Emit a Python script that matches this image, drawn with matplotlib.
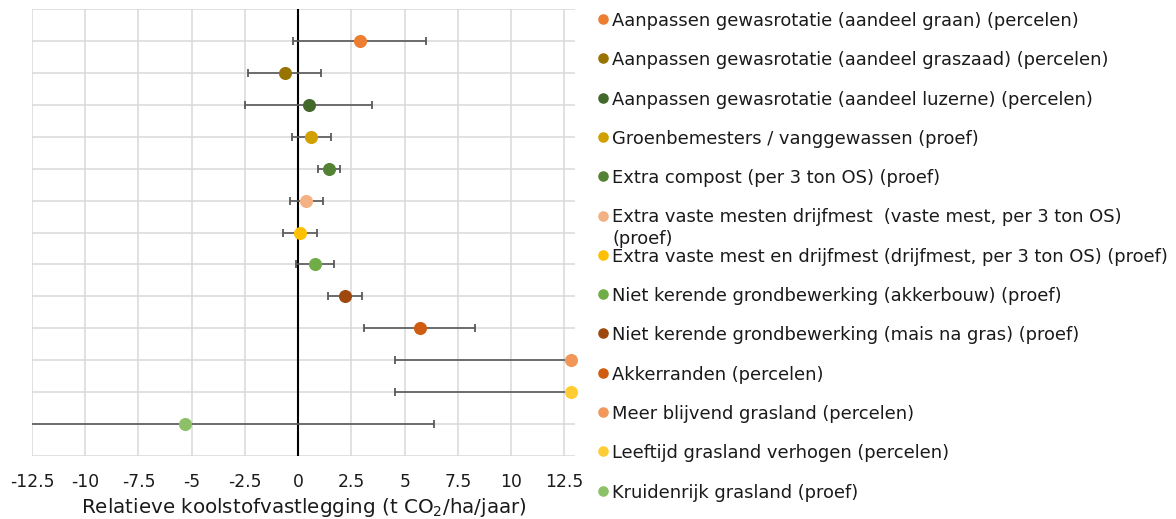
import numpy as np
import matplotlib
matplotlib.use("Agg")
import matplotlib.pyplot as plt

# maatregelen, van boven naar beneden
labels = [
    "Aanpassen gewasrotatie (aandeel graan) (percelen)",
    "Aanpassen gewasrotatie (aandeel graszaad) (percelen)",
    "Aanpassen gewasrotatie (aandeel luzerne) (percelen)",
    "Groenbemesters / vanggewassen (proef)",
    "Extra compost (per 3 ton OS) (proef)",
    "Extra vaste mesten drijfmest  (vaste mest, per 3 ton OS)\n(proef)",
    "Extra vaste mest en drijfmest (drijfmest, per 3 ton OS) (proef)",
    "Niet kerende grondbewerking (akkerbouw) (proef)",
    "Niet kerende grondbewerking (mais na gras) (proef)",
    "Akkerranden (percelen)",
    "Meer blijvend grasland (percelen)",
    "Leeftijd grasland verhogen (percelen)",
    "Kruidenrijk grasland (proef)",
]
# relatieve koolstofvastlegging (t CO2/ha/jaar) en spreiding
waarde = [2.88, -0.64, 0.49, 0.61, 1.43, 0.39, 0.08, 0.78, 2.19, 5.70, 12.83, 12.83, -5.31]
spreiding = [3.1, 1.7, 3.0, 0.92, 0.52, 0.79, 0.80, 0.90, 0.79, 2.6, 8.3, 8.3, 11.7]
kleuren = ["#ED7D31", "#997300", "#43682B", "#D09F00", "#548235", "#F4B183", "#FFC000",
           "#70AD47", "#9E480E", "#CF5C10", "#F1975A", "#FFCD33", "#8CC168"]

xticks = [-12.5, -10, -7.5, -5, -2.5, 0, 2.5, 5, 7.5, 10, 12.5]
xticklabels = ["-12.5", "-10", "-7.5", "-5", "-2.5", "0", "2.5", "5", "7.5", "10", "12.5"]

plt.rcParams["font.family"] = ["DejaVu Sans"]
W, H = 1176, 519
fig = plt.figure(figsize=(W / 100, H / 100), dpi=100)
ax = fig.add_axes([32 / W, 1 - 456 / H, (575 - 32) / W, (456 - 9) / H])

n = len(labels)
ypos = np.arange(n, 0, -1)

ax.set_xlim(-12.5, 13.0)
ax.set_ylim(0, n + 1)
ax.set_xticks(xticks)
ax.set_xticklabels(xticklabels, fontsize=12.3, color="#1A1A1A")
ax.set_yticks(np.arange(0, n + 2))
ax.set_yticklabels([])
ax.tick_params(length=0, pad=12)
ax.grid(True, color="#D9D9D9", lw=1.1, zorder=0)
ax.set_axisbelow(True)
for s in ax.spines.values():
    s.set_visible(False)
ax.axvline(0, color="black", lw=1.5, zorder=2)

for y, v, e, c in zip(ypos, waarde, spreiding, kleuren):
    ax.errorbar(v, y, xerr=e, fmt="none", ecolor="#595959", elinewidth=1.2,
                capsize=2.9, capthick=1.3, zorder=3)
    ax.plot(v, y, "o", color=c, ms=8.4, mec=c, zorder=4, clip_on=False)

ax.set_xlabel("Relatieve koolstofvastlegging (t CO$_2$/ha/jaar)", fontsize=14.3,
              color="#1A1A1A", labelpad=4)

# legenda
lax = fig.add_axes([595 / W, 0, 1 - 595 / W, 1])
lax.set_xlim(0, W - 595)
stap = 39.3
lax.set_ylim((H - 19) / stap, -19 / stap)
lax.axis("off")
for i, (lab, c) in enumerate(zip(labels, kleuren)):
    lax.plot(8, i, "o", color=c, ms=6.6, mec=c, clip_on=False)
    for k, regel in enumerate(lab.split("\n")):
        lax.text(17, i + k * 21 / stap, regel, fontsize=12.9, color="#1A1A1A",
                 va="center_baseline", ha="left")

fig.savefig("out.png", dpi=100)
